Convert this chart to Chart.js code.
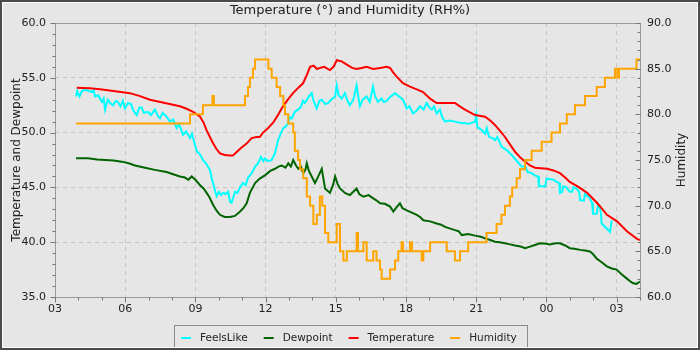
<!DOCTYPE html>
<html lang="en">
<head>
<meta charset="UTF-8">
<title>Temperature and Humidity</title>
<script src="https://cdn.jsdelivr.net/npm/chart.js"></script>
<style>
  html, body { margin: 0; padding: 0; background: #e6e6e6; }
  .wrap { width: 700px; height: 350px; }
</style>
</head>
<body>
<div class="wrap"><canvas id="weatherChart" width="700" height="350"></canvas></div>
<script>
// times are hours from midnight of the first day (24+ is the next morning)
const tempHours = [3.93, 4.5, 4.92, 5.5, 6.2, 6.6, 7.06, 7.7, 8.34, 8.6, 8.9, 9.2, 9.35, 9.48, 9.62, 9.75, 9.9, 10.05, 10.25, 10.48, 10.6, 10.75, 10.95, 11.19, 11.4, 11.62, 11.75, 11.89, 12.1, 12.32, 12.5, 12.74, 12.95, 13.17, 13.4, 13.6, 13.75, 13.9, 14.05, 14.2, 14.32, 14.5, 14.75, 14.9, 15.04, 15.25, 15.47, 15.7, 15.89, 16.1, 16.32, 16.59, 16.9, 17.17, 17.32, 17.45, 17.6, 17.87, 18.17, 18.46, 18.73, 19.03, 19.31, 19.7, 20.09, 20.3, 20.52, 20.95, 21.38, 21.6, 21.8, 22.0, 22.23, 22.45, 22.66, 22.9, 23.09, 23.3, 23.51, 24.03, 24.3, 24.58, 24.8, 25.0, 25.4, 25.74, 26.16, 26.4, 26.59, 27.02, 27.44, 27.87, 28.0];
const tempValues = [54.1, 54.05, 53.95, 53.8, 53.6, 53.35, 53.0, 52.7, 52.4, 52.2, 51.9, 51.45, 50.9, 50.2, 49.6, 49.05, 48.5, 48.1, 47.95, 47.9, 47.9, 48.2, 48.6, 49.0, 49.5, 49.6, 49.6, 50.0, 50.4, 50.9, 51.5, 52.4, 53.0, 53.6, 54.1, 54.5, 55.2, 56.0, 56.1, 55.8, 55.9, 56.0, 55.7, 56.0, 56.6, 56.5, 56.2, 55.9, 55.8, 55.9, 56.0, 55.8, 55.9, 56.0, 55.9, 55.5, 55.1, 54.5, 54.2, 53.95, 53.7, 53.1, 52.7, 52.7, 52.7, 52.4, 52.1, 51.6, 51.45, 51.1, 50.7, 50.2, 49.6, 48.9, 48.25, 47.7, 47.35, 47.0, 46.8, 46.7, 46.55, 46.3, 45.9, 45.5, 45.0, 44.5, 43.6, 43.0, 42.5, 41.9, 41.0, 40.3, 40.2];

const feelsHours = [3.9, 3.95, 4.05, 4.15, 4.28, 4.45, 4.57, 4.65, 4.71, 4.85, 5.0, 5.08, 5.14, 5.2, 5.26, 5.35, 5.48, 5.6, 5.69, 5.8, 5.9, 5.99, 6.12, 6.25, 6.35, 6.49, 6.6, 6.7, 6.8, 6.97, 7.1, 7.27, 7.4, 7.49, 7.6, 7.77, 7.91, 8.05, 8.2, 8.3, 8.47, 8.6, 8.77, 8.85, 8.98, 9.06, 9.2, 9.32, 9.45, 9.62, 9.7, 9.75, 9.85, 9.91, 10.0, 10.1, 10.18, 10.3, 10.4, 10.48, 10.55, 10.62, 10.69, 10.8, 10.9, 11.03, 11.15, 11.25, 11.41, 11.55, 11.68, 11.8, 11.9, 11.97, 12.1, 12.26, 12.4, 12.53, 12.65, 12.75, 12.83, 12.95, 13.05, 13.12, 13.25, 13.38, 13.5, 13.6, 13.68, 13.85, 13.97, 14.05, 14.18, 14.3, 14.4, 14.55, 14.67, 14.8, 14.97, 15.04, 15.12, 15.25, 15.39, 15.5, 15.6, 15.75, 15.89, 15.95, 16.03, 16.15, 16.32, 16.45, 16.59, 16.68, 16.8, 16.95, 17.05, 17.17, 17.3, 17.53, 17.7, 17.87, 17.95, 18.03, 18.15, 18.3, 18.45, 18.6, 18.75, 18.88, 19.0, 19.1, 19.2, 19.31, 19.45, 19.55, 19.67, 19.85, 20.09, 20.3, 20.52, 20.7, 20.95, 21.0, 21.05, 21.2, 21.38, 21.45, 21.55, 21.7, 21.8, 21.9, 22.09, 22.3, 22.52, 22.7, 22.94, 23.1, 23.2, 23.37, 23.5, 23.65, 23.68, 23.95, 24.01, 24.3, 24.44, 24.55, 24.58, 24.68, 24.71, 24.85, 25.0, 25.1, 25.15, 25.29, 25.4, 25.44, 25.6, 25.65, 25.86, 25.95, 25.99, 26.15, 26.2, 26.29, 26.33, 26.36, 26.72, 26.79];
const feelsValues = [53.3, 53.8, 53.3, 53.8, 53.9, 53.8, 53.7, 53.9, 53.3, 53.4, 52.8, 53.1, 52.1, 52.6, 53.0, 52.7, 52.5, 52.9, 52.8, 52.4, 52.9, 52.2, 52.7, 52.6, 52.0, 51.6, 52.3, 52.3, 51.8, 51.9, 51.6, 52.1, 51.5, 51.3, 51.8, 51.45, 51.0, 51.2, 50.4, 50.8, 49.8, 50.1, 49.5, 49.9, 48.9, 48.3, 48.0, 47.5, 47.2, 46.6, 45.8, 45.4, 44.6, 44.2, 44.6, 44.3, 44.5, 44.4, 44.6, 43.7, 43.6, 44.1, 44.6, 44.5, 45.0, 45.4, 45.2, 45.9, 46.3, 46.9, 47.2, 47.8, 47.4, 47.65, 47.4, 47.5, 48.1, 49.3, 49.9, 50.4, 50.5, 50.8, 51.4, 51.3, 51.9, 52.1, 52.3, 52.9, 52.7, 53.3, 53.6, 52.9, 52.2, 52.9, 53.0, 52.6, 52.7, 53.0, 53.3, 54.3, 53.4, 53.1, 53.6, 52.9, 52.5, 53.0, 54.3, 53.4, 52.4, 53.0, 53.3, 52.8, 54.2, 53.3, 52.8, 53.1, 52.8, 52.9, 53.2, 53.6, 53.3, 53.0, 52.6, 52.2, 52.4, 51.75, 52.0, 52.4, 52.1, 52.7, 52.3, 52.1, 52.4, 51.75, 52.1, 51.4, 51.0, 51.1, 51.0, 50.9, 50.85, 50.8, 51.0, 51.6, 50.5, 50.3, 49.9, 50.4, 49.6, 49.5, 49.3, 49.6, 48.7, 48.4, 47.95, 47.5, 46.9, 46.9, 46.4, 46.3, 46.1, 46.0, 45.1, 45.1, 45.8, 45.7, 45.5, 45.4, 44.5, 44.6, 45.1, 45.0, 44.6, 44.6, 45.0, 44.9, 44.6, 43.85, 43.8, 44.4, 44.0, 43.6, 42.6, 42.6, 43.3, 43.2, 42.6, 41.7, 40.95, 42.0];

const dewHours = [3.9, 4.41, 4.8, 5.14, 5.5, 5.85, 6.15, 6.42, 6.85, 7.27, 7.77, 8.05, 8.34, 8.55, 8.7, 8.84, 9.0, 9.2, 9.35, 9.48, 9.6, 9.76, 9.9, 10.05, 10.25, 10.48, 10.69, 10.91, 11.05, 11.19, 11.33, 11.55, 11.75, 11.97, 12.2, 12.4, 12.55, 12.69, 12.85, 12.97, 13.08, 13.18, 13.3, 13.4, 13.5, 13.61, 13.7, 13.76, 13.85, 13.97, 14.11, 14.25, 14.4, 14.47, 14.54, 14.75, 14.88, 14.97, 15.08, 15.18, 15.39, 15.6, 15.75, 15.89, 16.0, 16.18, 16.4, 16.6, 16.75, 16.89, 17.1, 17.32, 17.46, 17.6, 17.74, 17.85, 18.03, 18.25, 18.46, 18.6, 18.74, 19.03, 19.31, 19.5, 19.67, 20.09, 20.25, 20.38, 20.66, 20.95, 21.2, 21.38, 21.6, 21.8, 22.0, 22.23, 22.45, 22.66, 22.9, 23.09, 23.3, 23.51, 23.73, 24.0, 24.15, 24.4, 24.58, 24.8, 25.0, 25.2, 25.44, 25.65, 25.86, 26.0, 26.15, 26.35, 26.58, 26.8, 27.0, 27.2, 27.43, 27.6, 27.71, 27.85, 28.0];
const dewValues = [47.65, 47.65, 47.55, 47.5, 47.45, 47.35, 47.2, 47.0, 46.8, 46.6, 46.4, 46.2, 46.0, 45.9, 45.7, 46.0, 45.7, 45.2, 44.9, 44.5, 44.1, 43.4, 42.9, 42.5, 42.3, 42.3, 42.4, 42.8, 43.1, 43.55, 44.5, 45.4, 45.8, 46.1, 46.5, 46.7, 46.9, 47.0, 46.8, 47.2, 46.9, 47.5, 47.0, 46.7, 46.9, 46.3, 46.6, 47.2, 46.5, 46.0, 45.4, 46.0, 46.7, 45.8, 44.9, 44.5, 45.2, 46.0, 45.3, 44.9, 44.5, 44.3, 44.6, 44.9, 44.4, 44.15, 44.3, 44.0, 43.8, 43.55, 43.5, 43.25, 42.8, 43.2, 43.55, 43.1, 42.9, 42.7, 42.5, 42.3, 42.0, 41.9, 41.7, 41.6, 41.4, 41.1, 41.0, 40.65, 40.75, 40.6, 40.5, 40.35, 40.2, 40.05, 40.0, 39.9, 39.8, 39.7, 39.6, 39.45, 39.6, 39.75, 39.9, 39.85, 39.8, 39.9, 39.9, 39.7, 39.45, 39.4, 39.3, 39.25, 39.15, 38.9, 38.5, 38.2, 37.8, 37.6, 37.5, 37.1, 36.7, 36.4, 36.25, 36.2, 36.4];

// humidity is reported in whole percents; each entry is the time the new value took over
const humHours = [3.9, 8.77, 9.32, 9.73, 9.79, 11.12, 11.25, 11.33, 11.46, 11.55, 12.12, 12.26, 12.47, 12.62, 12.76, 12.83, 12.97, 13.18, 13.25, 13.39, 13.47, 13.61, 13.76, 13.9, 14.04, 14.19, 14.32, 14.42, 14.54, 14.68, 15.04, 15.18, 15.32, 15.47, 15.89, 15.95, 16.18, 16.32, 16.6, 16.74, 16.89, 16.96, 17.32, 17.53, 17.67, 17.81, 17.87, 18.17, 18.26, 18.67, 18.74, 19.03, 19.74, 20.09, 20.31, 20.66, 21.44, 21.87, 22.08, 22.23, 22.44, 22.54, 22.73, 22.87, 23.09, 23.37, 23.8, 24.22, 24.58, 24.87, 25.22, 25.65, 26.15, 26.5, 26.93, 27.03, 27.1, 27.85, 28.0];
const humValues = [79, 80, 81, 82, 81, 82, 83, 84, 85, 86, 85, 84, 83, 82, 81, 80, 79, 78, 76, 75, 74, 73, 71, 70, 68, 69, 71, 70, 67, 66, 68, 65, 64, 65, 67, 65, 66, 64, 65, 64, 63, 62, 63, 64, 65, 66, 65, 66, 65, 64, 65, 66, 65, 64, 65, 66, 67, 68, 69, 70, 71, 72, 73, 74, 75, 76, 77, 78, 79, 80, 81, 82, 83, 84, 85, 84, 85, 86, 86];

const seriesNames = ['FeelsLike', 'Dewpoint', 'Temperature', 'Humidity'];
const seriesColors = ['#00ffff', '#006400', '#ff0000', '#ffa500'];
const xTickHours = [3, 6, 9, 12, 15, 18, 21, 24, 27];
const chartTitle = 'Temperature (\u00b0) and Humidity (RH%)';
const leftAxisTitle = 'Temperature and Dewpoint';
const rightAxisTitle = 'Humidity';

const BG = '#e6e6e6';
const GRID = '#c4c4c4';
const OUTLINE = '#9a9a9a';
const TEXT = '#222222';

function toPoints(hours, values) {
    return hours.map((h, i) => ({ x: h, y: values[i] }));
}

function hourLabel(v) {
    return String(v % 24).padStart(2, '0');
}

// background, plot outline, tick marks, axis titles, legend and the frame
const decorations = {
    id: 'decorations',
    beforeDraw(chart) {
        const ctx = chart.ctx;
        ctx.save();
        ctx.fillStyle = BG;
        ctx.fillRect(0, 0, chart.width, chart.height);
        ctx.restore();
    },
    afterDraw(chart) {
        const ctx = chart.ctx;
        const area = chart.chartArea;
        const sx = chart.scales.x, sy = chart.scales.y, sy2 = chart.scales.y2;
        ctx.save();

        // plot outline
        ctx.strokeStyle = OUTLINE;
        ctx.lineWidth = 1;
        ctx.strokeRect(Math.round(area.left) + 0.5, Math.round(area.top) + 0.5,
            Math.round(area.right - area.left), Math.round(area.bottom - area.top));

        // tick marks: hours along the bottom, whole units up the sides
        ctx.beginPath();
        const bottom = Math.round(area.bottom) + 0.5;
        for (let h = sx.min; h <= sx.max; h++) {
            const px = Math.round(sx.getPixelForValue(h)) + 0.5;
            const len = h % 3 === 0 ? 5 : 3;
            ctx.moveTo(px, bottom);
            ctx.lineTo(px, bottom + len);
        }
        const left = Math.round(area.left) + 0.5;
        for (let v = sy.min; v <= sy.max; v++) {
            const py = Math.round(sy.getPixelForValue(v)) + 0.5;
            const len = v % 5 === 0 ? 5 : 3;
            ctx.moveTo(left - len, py);
            ctx.lineTo(left, py);
        }
        const right = Math.round(area.right) + 0.5;
        for (let v = sy2.min; v <= sy2.max; v++) {
            const py = Math.round(sy2.getPixelForValue(v)) + 0.5;
            const len = v % 5 === 0 ? 5 : 3;
            ctx.moveTo(right - len, py);
            ctx.lineTo(right, py);
        }
        ctx.strokeStyle = '#777';
        ctx.stroke();

        // axis titles, both reading upwards
        const midY = (area.top + area.bottom) / 2;
        ctx.fillStyle = TEXT;
        ctx.font = "12px 'DejaVu Sans'";
        ctx.textAlign = 'center';
        ctx.textBaseline = 'middle';
        [[17, leftAxisTitle], [682, rightAxisTitle]].forEach(([x, text]) => {
            ctx.save();
            ctx.translate(x, midY);
            ctx.rotate(-Math.PI / 2);
            ctx.fillText(text, 0, 0);
            ctx.restore();
        });

        // legend
        ctx.font = "10.5px 'DejaVu Sans'";
        ctx.textAlign = 'left';
        ctx.textBaseline = 'alphabetic';
        const items = chart.data.datasets.map(ds => ({
            text: ds.label, color: ds.borderColor, w: ctx.measureText(ds.label).width
        }));
        const lead = 7, toText = 19, between = 16, tail = 10;
        let boxW = lead + tail + between * (items.length - 1);
        items.forEach(it => { boxW += toText + it.w; });
        const boxL = Math.round(chart.width / 2 - boxW / 2);
        const boxT = 325;
        ctx.strokeStyle = '#8c8c8c';
        ctx.strokeRect(boxL + 0.5, boxT + 0.5, Math.round(boxW), 24);
        let x = boxL + lead;
        items.forEach(it => {
            ctx.fillStyle = it.color;
            ctx.fillRect(x, 337, 10, 2);
            ctx.fillStyle = TEXT;
            ctx.fillText(it.text, x + toText, 341);
            x += toText + it.w + between;
        });

        // frame
        ctx.strokeStyle = '#ffffff';
        ctx.lineWidth = 1;
        ctx.strokeRect(2.5, 2.5, chart.width - 5, chart.height - 5);
        ctx.strokeStyle = '#4b4b4b';
        ctx.lineWidth = 2;
        ctx.strokeRect(1, 1, chart.width - 2, chart.height - 2);
        ctx.restore();
    }
};

Chart.defaults.font.family = "'DejaVu Sans', sans-serif";
Chart.defaults.font.size = 11;
Chart.defaults.color = TEXT;

const ctx = document.getElementById('weatherChart').getContext('2d');
new Chart(ctx, {
    type: 'line',
    data: {
        datasets: [
            { label: seriesNames[0], data: toPoints(feelsHours, feelsValues), borderColor: seriesColors[0], yAxisID: 'y', order: 4 },
            { label: seriesNames[1], data: toPoints(dewHours, dewValues), borderColor: seriesColors[1], yAxisID: 'y', order: 3 },
            { label: seriesNames[2], data: toPoints(tempHours, tempValues), borderColor: seriesColors[2], yAxisID: 'y', order: 2 },
            { label: seriesNames[3], data: toPoints(humHours, humValues), borderColor: seriesColors[3], yAxisID: 'y2', order: 1, stepped: true }
        ]
    },
    options: {
        responsive: false,
        animation: false,
        elements: {
            point: { radius: 0 },
            line: { borderWidth: 2, tension: 0, fill: false }
        },
        layout: { padding: 0 },
        plugins: {
            legend: { display: false },
            tooltip: { enabled: false },
            title: {
                display: true,
                text: chartTitle,
                color: TEXT,
                font: { size: 13, weight: 'normal' },
                padding: { top: 3, bottom: 4.4 }
            }
        },
        scales: {
            x: {
                type: 'linear',
                min: 3,
                max: 28,
                afterBuildTicks: scale => { scale.ticks = xTickHours.map(v => ({ value: v })); },
                afterFit: scale => { scale.height = 53; },
                ticks: { autoSkip: false, maxRotation: 0, padding: 6, callback: v => hourLabel(v) },
                grid: {
                    drawTicks: false,
                    color: c => (c.tick && c.tick.value === 3) ? 'rgba(0,0,0,0)' : GRID
                },
                border: { display: false, dash: [4, 4] }
            },
            y: {
                position: 'left',
                min: 35,
                max: 60,
                afterFit: scale => { scale.width = 55; },
                ticks: { stepSize: 5, padding: 9, callback: v => v.toFixed(1) },
                grid: {
                    drawTicks: false,
                    color: c => (c.tick && (c.tick.value === 35 || c.tick.value === 60)) ? 'rgba(0,0,0,0)' : GRID
                },
                border: { display: false, dash: [4, 4] }
            },
            y2: {
                position: 'right',
                min: 60,
                max: 90,
                afterFit: scale => { scale.width = 60; },
                ticks: { stepSize: 5, padding: 7, callback: v => v.toFixed(1) },
                grid: { display: false, drawTicks: false },
                border: { display: false }
            }
        }
    },
    plugins: [decorations]
});
</script>
</body>
</html>
